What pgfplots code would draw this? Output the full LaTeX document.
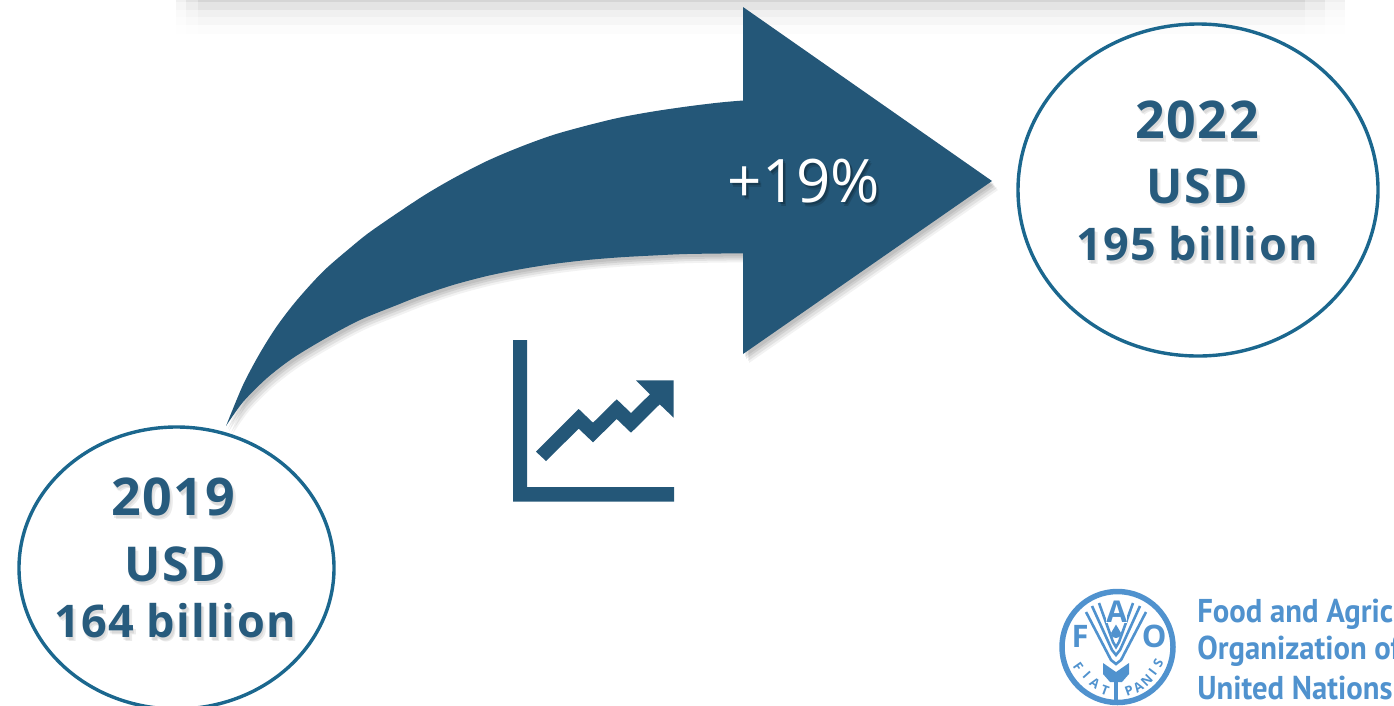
\documentclass[border=0pt]{standalone}
\usepackage{fontspec}
\usepackage{pgfplots}
\usepackage{pgfplotstable}
\pgfplotsset{compat=1.18}
\setmainfont{Open Sans}
\newfontfamily\lab[LetterSpace=3]{Open Sans}
\newfontfamily\logofont{PT Sans}
\definecolor{navy}{HTML}{245778}
\definecolor{ring}{HTML}{1B678E}
\definecolor{txt}{HTML}{275B7D}
\definecolor{fao}{HTML}{5092CE}

% curved shaft of the arrow, picture pixels (right end hides under the head)
\pgfplotstableread{
x y
226 426
243 385
260 353
277 326
297 300
323 271.5
350 248
372 230.5
420 198
453 178.5
487 161
520 147
553 135
587 125.5
620 117.5
653 111.5
687 106.5
720 102.5
750 100
800 97
800 253
750 253.2
687 254
653 255.5
620 257.3
587 260
553 264
520 269.3
487 276
453 285
420 296
397 305
360 320
327 337.5
293 358
267 378
243 402
226 426
}\shafttab

\pgfplotstableread{
x y
743 7
992 181
743 354
}\headtab

\pgfplotstableread{
x y
513 340
527 340
527 487
674 487
674 501.5
513 501.5
}\iconaxes

\pgfplotstableread{
x y
536 451.7
578.7 409
593 422.7
616.7 399.3
631 413
650 394.3
636 380.3
673.7 380.3
673.7 417.7
659.7 404.3
631 432.7
616.7 419
593 442.3
578.7 428.7
546 461
}\iconline

\newcommand{\band}[4]{\addplot[fill=black,draw=none,fill opacity=#4] coordinates {(#1,0) (#2,0) (#2,#3) (#1,#3)};}
% one grey step of the top shadow, fading at both ends
\newcommand{\row}[2]{\band{176}{1345}{#1}{#2}\band{186}{1325}{#1}{#2}\band{198}{1305}{#1}{#2}}
\newcommand{\shtext}[4]{%
  \node[text=gray,opacity=.16,font=#4] at (axis cs:#1+3,#2+4) {#3};
  \node[text=gray,opacity=.16,font=#4] at (axis cs:#1+1.5,#2+2.5) {#3};
  \node[text=txt,font=#4] at (axis cs:#1,#2) {#3};}
\newcommand{\arcl}[4]{\node[text=fao,font=\fontsize{13}{13}\selectfont\bfseries,rotate=#3] at (axis cs:#1,#2) {#4};}
\newcommand{\shadowlayer}[3]{%
  \addplot[smooth,tension=.5,fill=black,draw=none,fill opacity=#3,xshift=#1pt,yshift=-#2pt] table {\shafttab};
  \addplot[fill=black,draw=none,fill opacity=#3,xshift=#1pt,yshift=-#2pt] table {\headtab};}

\begin{document}
\begin{tikzpicture}
\clip (0,0) rectangle (1394pt,705pt);
\begin{axis}[
  scale only axis,
  width=1394pt,
  height=705pt,
  xmin=0, xmax=1394,
  ymin=0, ymax=705,
  y dir=reverse,
  hide axis,
  clip=false,
]
% pale shadow band along the top edge
\row{34}{.002}
\row{25}{.009}
\row{17}{.009}
\row{10}{.015}
\row{2}{.022}

% arrow with soft shadow
\shadowlayer{2}{3}{.08}
\shadowlayer{3}{5}{.08}
\shadowlayer{5}{7}{.07}
\shadowlayer{6}{9}{.05}
\addplot[smooth,tension=.5,fill=navy,draw=none] table {\shafttab};
\addplot[fill=navy,draw=none] table {\headtab};

% trend icon
\addplot[fill=navy,draw=none] table {\iconaxes};
\addplot[fill=navy,draw=none] table {\iconline};

% circles
\draw[ring,line width=3.4pt] (axis cs:176.5,568) ellipse [x radius=157.5, y radius=141];
\draw[ring,line width=3.4pt] (axis cs:1198,190) ellipse [x radius=180, y radius=166];

\shtext{173}{497}{2019}{\fontsize{52}{52}\selectfont\bfseries\lab}
\shtext{175}{564}{USD}{\fontsize{48}{48}\selectfont\bfseries\lab}
\shtext{175}{621}{164 billion}{\fontsize{45}{45}\selectfont\bfseries\lab}
\shtext{1197}{120}{2022}{\fontsize{52}{52}\selectfont\bfseries\lab}
\shtext{1197}{186}{USD}{\fontsize{48}{48}\selectfont\bfseries\lab}
\shtext{1197}{244}{195 billion}{\fontsize{45}{45}\selectfont\bfseries\lab}

\node[text=black,opacity=.15,font=\fontsize{60}{60}\selectfont] at (axis cs:807,185) {+19\%};
\node[text=black,opacity=.2,font=\fontsize{60}{60}\selectfont] at (axis cs:806,183) {+19\%};
\node[text=white,font=\fontsize{60}{60}\selectfont] at (axis cs:804,181) {+19\%};

% FAO emblem
\draw[fao,line width=5.5pt] (axis cs:1117.5,647) circle [radius=55.5];
\addplot[fao,line width=2.6pt] coordinates {(1086,612) (1111,660) (1116,664) (1121,660) (1146,612)};
\addplot[fao,line width=2.6pt] coordinates {(1092,606) (1112,650) (1116,655) (1120,650) (1140,606)};
\addplot[fao,line width=2.6pt] coordinates {(1099,603) (1113,642) (1116,647) (1119,642) (1133,603)};
\addplot[fill=fao,draw=none] coordinates {(1103,663) (1116,672) (1129,663) (1129,674) (1122,682) (1110,682) (1103,674)};
\addplot[fao,line width=3.5pt] coordinates {(1116,678) (1116,703)};
\addplot[fill=fao,draw=none] coordinates {(1116,624.5) (1121,633) (1119.5,637) (1116,638) (1112.5,637) (1111,633)};
\node[text=fao,fill=white,inner sep=0pt,font=\fontsize{30}{30}\selectfont\bfseries] at (axis cs:1116.7,612) {A};
\node[text=fao,font=\fontsize{31}{31}\selectfont\bfseries] at (axis cs:1080,636) {F};
\node[text=fao,font=\fontsize{31}{31}\selectfont\bfseries] at (axis cs:1154.3,636) {O};
\arcl{1078.3}{666.7}{-55}{F}
\arcl{1086.7}{675}{-48}{I}
\arcl{1095}{683}{-35}{A}
\arcl{1105}{690}{-20}{T}
\arcl{1129}{691}{20}{P}
\arcl{1138.3}{686.7}{33}{A}
\arcl{1146.7}{680}{45}{N}
\arcl{1152.7}{672.3}{53}{I}
\arcl{1158.3}{663.3}{62}{S}

\node[anchor=west,text=fao,xscale=.93,font=\fontsize{33}{33}\selectfont\bfseries\logofont] at (axis cs:1194,614) {Food and Agriculture};
\node[anchor=west,text=fao,xscale=.93,font=\fontsize{33}{33}\selectfont\bfseries\logofont] at (axis cs:1194,651) {Organization of the};
\node[anchor=west,text=fao,xscale=.93,font=\fontsize{33}{33}\selectfont\bfseries\logofont] at (axis cs:1194,688) {United Nations};
\end{axis}
\end{tikzpicture}
\end{document}
